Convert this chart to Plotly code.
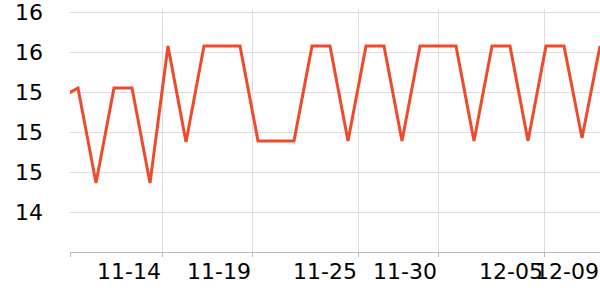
import plotly.graph_objects as go
import pandas as pd

# data: daily values (first point lies just left of the visible range)
dates = pd.date_range("2024-11-09", periods=31, freq="D").strftime("%Y-%m-%d").tolist()
values = [15.34, 15.44, 14.49, 15.44, 15.44, 14.49, 15.86, 14.90, 15.86, 15.86,
          15.86, 14.91, 14.91, 14.91, 15.86, 15.86, 14.91, 15.86, 15.86, 14.91,
          15.86, 15.86, 15.86, 14.91, 15.86, 15.86, 14.91, 15.86, 15.86, 14.94,
          15.86]

x_tickvals = ["2024-11-09 13:20", "2024-11-14 16:00", "2024-11-19 16:00", "2024-11-25 13:20",
              "2024-11-30 00:00", "2024-12-05 21:20", "2024-12-09 00:00"]
x_ticktext = ["", "11-14", "11-19", "11-25", "11-30", "12-05", "12-09"]
x_range = ["2024-11-09 13:20", "2024-12-09 00:00:01"]

y_tickvals = [13.8, 14.2, 14.6, 15.0, 15.4, 15.8, 16.2]
y_ticktext = [""] + [f"{v:.0f}" for v in y_tickvals[1:]]

fig = go.Figure()
fig.add_trace(go.Scatter(x=dates, y=values, mode="lines",
                         line=dict(color="#ee4a2c", width=3), showlegend=False))

fig.update_layout(
    width=600, height=300,
    margin=dict(l=70, r=0, t=7, b=48),
    paper_bgcolor="white", plot_bgcolor="white",
    font=dict(family="DejaVu Sans", size=22, color="#000"),
    xaxis=dict(type="date", range=x_range, tickmode="array", tickvals=x_tickvals,
               ticktext=x_ticktext, ticklabelposition="outside left", tickangle=0,
               ticklabeloverflow="allow",
               showgrid=True, gridcolor="#dddddd", gridwidth=1,
               ticks="outside", ticklen=4, tickcolor="#bbbbbb",
               showline=True, linecolor="#bbbbbb", linewidth=1,
               zeroline=False),
    yaxis=dict(range=[13.8, 16.23], tickmode="array", tickvals=y_tickvals,
               ticktext=y_ticktext, showgrid=True, gridcolor="#dddddd", gridwidth=1,
               ticklabeloverflow="allow",
               showline=False, zeroline=False, ticks="", ticklabelstandoff=26),
)

fig.write_html("out.html")
